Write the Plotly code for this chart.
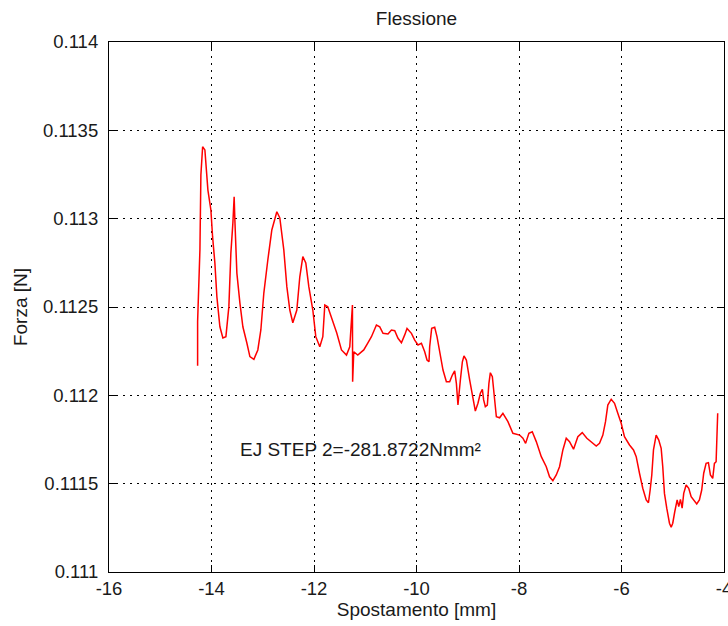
import plotly.graph_objects as go

# Spostamento [mm]
spostamento = [
    -14.271, -14.271, -14.226, -14.207, -14.173, -14.129, -14.070, -14.012, -13.979, -13.934,
    -13.895, -13.836, -13.778, -13.719, -13.661, -13.622, -13.583, -13.558, -13.544, -13.505,
    -13.446, -13.388, -13.310, -13.251, -13.173, -13.096, -13.037, -12.979, -12.901, -12.823,
    -12.725, -12.667, -12.589, -12.530, -12.472, -12.413, -12.335, -12.277, -12.218, -12.160,
    -12.101, -12.023, -11.965, -11.887, -11.828, -11.789, -11.731, -11.634, -11.556, -11.464,
    -11.366, -11.302, -11.269, -11.250, -11.246, -11.224, -11.146, -11.029, -10.951, -10.879,
    -10.782, -10.717, -10.653, -10.556, -10.489, -10.425, -10.361, -10.294, -10.230, -10.185,
    -10.099, -10.035, -9.971, -9.904, -9.840, -9.795, -9.756, -9.743, -9.704, -9.645,
    -9.600, -9.548, -9.483, -9.417, -9.353, -9.300, -9.255, -9.222, -9.191, -9.144,
    -9.105, -9.074, -9.027, -8.963, -8.899, -8.852, -8.801, -8.754, -8.715, -8.690,
    -8.657, -8.618, -8.587, -8.559, -8.520, -8.489, -8.442, -8.378, -8.314, -8.216,
    -8.119, -7.988, -7.924, -7.871, -7.807, -7.741, -7.663, -7.565, -7.468, -7.404,
    -7.339, -7.273, -7.209, -7.144, -7.078, -7.014, -6.936, -6.852, -6.766, -6.676,
    -6.591, -6.493, -6.429, -6.364, -6.312, -6.267, -6.201, -6.136, -6.072, -6.006,
    -5.942, -5.844, -5.766, -5.713, -5.649, -5.585, -5.518, -5.474, -5.441, -5.409,
    -5.376, -5.324, -5.273, -5.226, -5.195, -5.162, -5.117, -5.064, -5.031, -5.000,
    -4.961, -4.914, -4.883, -4.850, -4.817, -4.786, -4.739, -4.688, -4.641, -4.577,
    -4.532, -4.480, -4.435, -4.396, -4.349, -4.304, -4.265, -4.220, -4.187, -4.154,
    -4.142, -4.123,
]

# Forza [N]
forza = [
    0.112168, 0.112417, 0.112823, 0.113247, 0.113407, 0.113389, 0.113162, 0.113049, 0.112898, 0.112749,
    0.112558, 0.112388, 0.112325, 0.112332, 0.112502, 0.112806, 0.112975, 0.113124, 0.112992, 0.112692,
    0.112523, 0.112388, 0.112296, 0.112219, 0.112204, 0.112257, 0.112370, 0.112579, 0.112766, 0.112936,
    0.113039, 0.113004, 0.112823, 0.112615, 0.112483, 0.112411, 0.112483, 0.112671, 0.112785, 0.112749,
    0.112615, 0.112483, 0.112332, 0.112275, 0.112332, 0.112511, 0.112502, 0.112426, 0.112353, 0.112257,
    0.112228, 0.112275, 0.112409, 0.112511, 0.112077, 0.112247, 0.112228, 0.112257, 0.112296, 0.112332,
    0.112398, 0.112388, 0.112351, 0.112347, 0.112370, 0.112366, 0.112323, 0.112298, 0.112342, 0.112379,
    0.112351, 0.112313, 0.112285, 0.112295, 0.112247, 0.112200, 0.112190, 0.112275, 0.112379, 0.112385,
    0.112332, 0.112238, 0.112143, 0.112077, 0.112077, 0.112115, 0.112139, 0.112068, 0.111945, 0.112087,
    0.112190, 0.112223, 0.112200, 0.112087, 0.111974, 0.111911, 0.111955, 0.112012, 0.112034, 0.111974,
    0.111936, 0.111945, 0.112068, 0.112128, 0.112105, 0.112012, 0.111879, 0.111873, 0.111898, 0.111851,
    0.111785, 0.111775, 0.111757, 0.111728, 0.111785, 0.111794, 0.111738, 0.111653, 0.111596, 0.111539,
    0.111517, 0.111549, 0.111596, 0.111691, 0.111757, 0.111738, 0.111695, 0.111766, 0.111789, 0.111757,
    0.111738, 0.111713, 0.111728, 0.111775, 0.111851, 0.111945, 0.111978, 0.111955, 0.111898, 0.111842,
    0.111766, 0.111719, 0.111691, 0.111653, 0.111559, 0.111474, 0.111408, 0.111392, 0.111464, 0.111549,
    0.111691, 0.111775, 0.111747, 0.111700, 0.111596, 0.111445, 0.111361, 0.111276, 0.111253, 0.111276,
    0.111341, 0.111408, 0.111370, 0.111411, 0.111361, 0.111445, 0.111492, 0.111474, 0.111426, 0.111398,
    0.111385, 0.111408, 0.111464, 0.111559, 0.111615, 0.111619, 0.111549, 0.111530, 0.111615, 0.111624,
    0.111804, 0.111898,
]

x_ticks = [-16, -14, -12, -10, -8, -6, -4]
x_tick_labels = ["-16", "-14", "-12", "-10", "-8", "-6", "-4"]
y_ticks = [0.111, 0.1115, 0.112, 0.1125, 0.113, 0.1135, 0.114]
y_tick_labels = ["0.111", "0.1115", "0.112", "0.1125", "0.113", "0.1135", "0.114"]

ej_label = "EJ STEP 2=-281.8722Nmm²"
ej_pos = (-13.49, 0.111691)

font_family = "Liberation Sans, Arial, Helvetica, sans-serif"
text_color = "#1a1a1a"

fig = go.Figure()
fig.add_trace(go.Scatter(
    x=spostamento, y=forza, mode="lines",
    line=dict(color="#ff0000", width=1.5),
    hoverinfo="skip", showlegend=False,
))

axis_common = dict(
    showline=True, linecolor="#000000", linewidth=1.2, mirror="ticks",
    ticks="inside", ticklen=7, tickwidth=1, tickcolor="#000000",
    showgrid=True, gridcolor="#000000", gridwidth=1, griddash="1.5px,5.5px",
    zeroline=False, ticklabeloverflow="allow", automargin=False,
    tickfont=dict(family=font_family, size=18.5, color=text_color),
)

fig.update_layout(
    width=728, height=626,
    margin=dict(l=109, r=4, t=42, b=54),
    paper_bgcolor="#ffffff", plot_bgcolor="#ffffff",
    font=dict(family=font_family, size=19, color=text_color),
    title=dict(text="Flessione", x=(109 + 724) / 2 / 728, xanchor="center",
               y=1 - 18 / 626, yanchor="middle",
               font=dict(family=font_family, size=19, color=text_color)),
    xaxis=dict(axis_common, range=[-16, -4], tickvals=x_ticks, ticktext=x_tick_labels,
               title=dict(text="Spostamento [mm]", standoff=4,
                          font=dict(family=font_family, size=19, color=text_color))),
    yaxis=dict(axis_common, range=[0.111, 0.114], tickvals=y_ticks, ticktext=y_tick_labels,
               ticklabelstandoff=6,
               title=dict(text="Forza [N]", standoff=10,
                          font=dict(family=font_family, size=19, color=text_color))),
    annotations=[dict(
        x=ej_pos[0], y=ej_pos[1], xref="x", yref="y", text=ej_label,
        showarrow=False, xanchor="left", yanchor="middle",
        font=dict(family=font_family, size=19, color=text_color),
    )],
)

fig.write_html("out.html")
